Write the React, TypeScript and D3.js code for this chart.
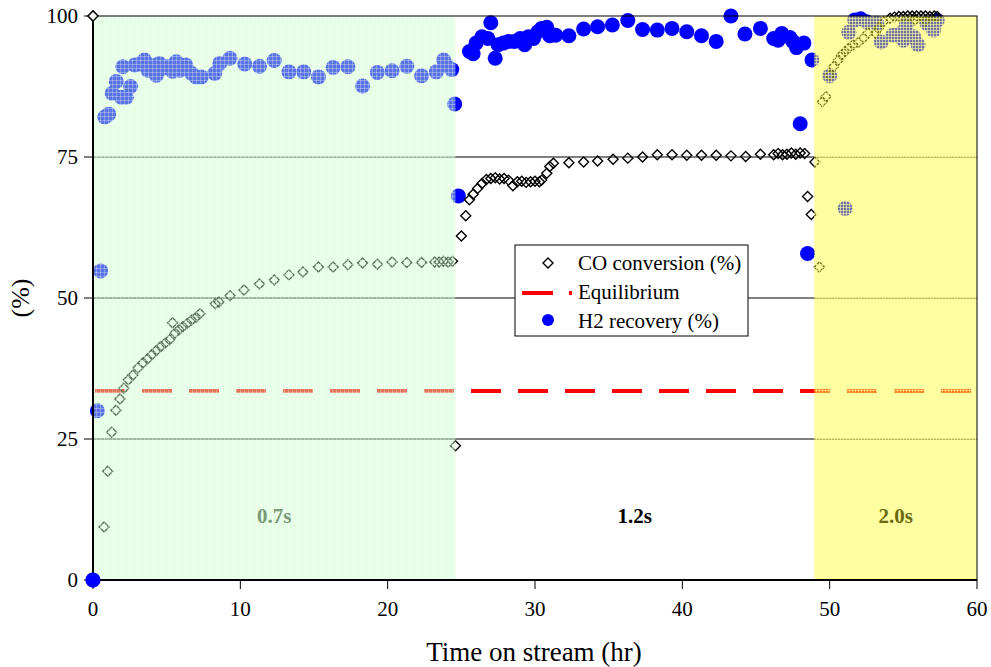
import * as d3 from "d3";
import { useEffect } from "react";

// time on stream (hr) and values
const coTime = [
  0, 0.75, 1.0, 1.27, 1.56, 1.83, 2.1, 2.4, 2.7, 3.05, 3.4, 3.7, 4.0, 4.3, 4.6,
  4.9, 5.2, 5.4, 5.57, 5.85, 6.1, 6.4, 6.7, 7.0, 7.26, 8.3, 8.55, 9.3, 10.25,
  11.3, 12.3, 13.3, 14.25, 15.3, 16.3, 17.3, 18.3, 19.3, 20.3, 21.3, 22.3, 23.2,
  23.5, 23.8, 24.1, 24.4, 24.6, 25.0, 25.3, 25.55, 25.8, 26.1, 26.4, 26.7, 27.0,
  27.3, 27.6, 27.9, 28.2, 28.5, 28.8, 29.1, 29.4, 29.7, 30.0, 30.3, 30.45, 30.8,
  31.0, 31.25, 32.3, 33.3, 34.25, 35.3, 36.3, 37.3, 38.3, 39.3, 40.3, 41.3,
  42.3, 43.3, 44.3, 45.3, 46.2, 46.5, 46.8, 47.1, 47.4, 47.7, 48.0, 48.3, 48.5,
  48.75, 49.0, 49.3, 49.5, 49.75, 50.0, 50.25, 50.6, 50.8, 51.05, 51.3, 51.6,
  51.95, 52.3, 52.6, 53.1, 53.3, 53.65, 54.1, 54.4, 54.7, 55.0, 55.3, 55.6,
  55.8, 55.9, 56.2, 56.5, 56.5, 56.8, 57.1, 57.3,
];
const coValue = [
  100, 9.4, 19.3, 26.2, 30.1, 32.1, 34, 35.5, 36.3, 37.6, 38.5, 39.2, 40.0,
  40.7, 41.4, 42.0, 42.6, 45.6, 43.8, 44.4, 44.9, 45.5, 46.1, 46.6, 47.2, 49.0,
  49.3, 50.4, 51.4, 52.5, 53.2, 54.1, 54.6, 55.5, 55.5, 55.9, 56.2, 56.0, 56.4,
  56.3, 56.3, 56.4, 56.4, 56.5, 56.4, 56.5, 23.8, 61.0, 64.6, 67.4, 68.4, 69.4,
  70.3, 71.0, 71.2, 71.3, 71.1, 71.2, 70.9, 69.9, 70.6, 70.7, 70.5, 70.6, 70.7,
  70.6, 70.9, 72.1, 73.3, 73.9, 74.0, 74.1, 74.3, 74.6, 74.8, 75.0, 75.4, 75.4,
  75.3, 75.3, 75.3, 75.2, 75.1, 75.5, 75.4, 75.6, 75.4, 75.5, 75.7, 75.5, 75.7,
  75.6, 68.0, 64.8, 74.1, 55.5, 84.8, 85.7, 89.5, 91.0, 92.2, 93.1, 93.7, 94.3,
  94.9, 95.3, 96.1, 97.0, 97.0, 97.8, 99.0, 99.6, 99.8, 99.9, 99.9, 100, 100,
  99.3, 100, 100, 100, 99.2, 99.9, 100, 99.9,
];

const h2Time = [
  0, 0.3, 0.52, 0.8, 1.07, 1.3, 1.58, 1.92, 2.03, 2.26, 2.55, 2.83, 3.2, 3.5,
  3.73, 4.0, 4.3, 4.5, 4.8, 5.1, 5.4, 5.65, 5.9, 6.3, 6.7, 7.0, 7.35, 8.26, 8.6,
  9.3, 10.3, 11.3, 12.3, 13.3, 14.3, 15.3, 16.3, 17.3, 18.3, 19.3, 20.3, 21.3,
  22.3, 23.3, 23.8, 24.0, 24.35, 24.55, 24.8, 25.55, 25.8, 26.0, 26.4, 26.8,
  27.0, 27.3, 27.5, 27.85, 28.2, 28.6, 29.0, 29.3, 29.55, 29.9, 30.2, 30.45,
  30.8, 31.0, 31.4, 32.3, 33.3, 34.25, 35.25, 36.3, 37.3, 38.3, 39.3, 40.3,
  41.3, 42.3, 43.3, 44.25, 45.3, 46.2, 46.5, 46.75, 47.3, 47.5, 47.75, 48.0,
  48.25, 48.5, 48.8, 50.0, 51.05, 51.3, 51.7, 52.1, 52.5, 53.2, 53.5, 54.3,
  54.8, 55.0, 55.2, 55.7, 56.0, 56.6, 57.05, 57.3,
];
const h2Value = [
  0, 30.0, 54.8, 82.1, 82.6, 86.3, 88.4, 85.6, 91.0, 85.6, 87.5, 91.3, 91.5,
  92.2, 90.4, 91.2, 89.5, 91.6, 90.8, 91.0, 90.2, 91.9, 90.4, 91.3, 89.8, 89.2,
  89.2, 89.8, 91.6, 92.5, 91.5, 91.1, 92.1, 90.1, 90.1, 89.2, 90.9, 91.0, 87.6,
  90.0, 90.3, 91.1, 89.4, 90.1, 92.2, 91.2, 90.5, 84.4, 68.1, 93.7, 93.3, 95.2,
  96.3, 96.0, 98.8, 92.5, 94.9, 95.2, 95.5, 95.5, 96.0, 94.9, 96.3, 96.0, 97.2,
  97.8, 98.0, 96.5, 96.6, 96.5, 97.7, 98.1, 98.4, 99.2, 97.6, 97.5, 97.8, 97.2,
  96.5, 95.5, 100, 96.8, 97.8, 96.0, 95.7, 96.9, 96.2, 95.5, 94.4, 80.9, 95.2,
  57.9, 92.2, 89.4, 65.9, 97.1, 99.3, 99.5, 99.0, 98.7, 95.4, 96.6, 96.9, 95.7,
  98.4, 96.3, 94.9, 98.7, 97.5, 99.2,
];

const equilibrium = 33.5;
const regionStart = [0, 24.6, 48.95];
const regionEnd = [24.6, 48.95, 60];
const regionLabels = ["0.7s", "1.2s", "2.0s"];
const yTicks = [0, 25, 50, 75, 100];
const xTicks = [0, 10, 20, 30, 40, 50, 60];
const legendLabels = ["CO conversion (%)", "Equilibrium", "H2 recovery (%)"];

export default function App() {
  useEffect(() => {
    document.body.style.margin = "0";
  }, []);

  const width = 991,
    height = 667;
  const left = 93,
    right = 977,
    top = 16,
    bottom = 580;
  const font = "'Liberation Serif', 'Times New Roman', serif";

  const x = d3.scaleLinear().domain([0, 60]).range([left, right]);
  const y = d3.scaleLinear().domain([0, 100]).range([bottom, top]);

  const diamond = (cx: number, cy: number, r: number) =>
    `M${cx},${cy - r}L${cx + r},${cy}L${cx},${cy + r}L${cx - r},${cy}Z`;

  const regionFill = ["url(#greenPat)", "none", "url(#yellowPat)"];
  const labelColor = ["#7a9a7a", "#000", "#6b6b10"];

  return (
    <svg
      width={width}
      height={height}
      style={{ display: "block", fontFamily: font, background: "#fff" }}
    >
      <defs>
        <pattern id="greenPat" width={4} height={4} patternUnits="userSpaceOnUse">
          <rect width={4} height={4} fill="#c4ffc4" fillOpacity={0.45} />
          <path d="M0,0.5H4M0.5,0V4" stroke="#ffffff" strokeWidth={1} strokeOpacity={0.3} />
        </pattern>
        <pattern id="yellowPat" width={3} height={3} patternUnits="userSpaceOnUse">
          <rect width={3} height={3} fill="#ffff30" fillOpacity={0.45} />
          <path d="M0,0.5H3M0.5,0V3" stroke="#ffffa0" strokeWidth={1} strokeOpacity={0.6} />
        </pattern>
      </defs>

      {/* horizontal grid */}
      {yTicks
        .filter((t) => t > 0 && t < 100)
        .map((t) => (
          <line key={t} x1={left} x2={right} y1={y(t)} y2={y(t)} stroke="#000" strokeWidth={1} />
        ))}

      {/* equilibrium */}
      <line
        x1={left + 2}
        x2={right}
        y1={y(equilibrium)}
        y2={y(equilibrium)}
        stroke="#ff0000"
        strokeWidth={4}
        strokeDasharray="30 17"
      />

      {/* H2 recovery */}
      {h2Time.map((t, i) => (
        <circle key={i} cx={x(t)} cy={y(h2Value[i])} r={7.5} fill="#0000ff" />
      ))}

      {/* CO conversion */}
      {coTime.map((t, i) => (
        <path
          key={i}
          d={diamond(x(t), y(coValue[i]), 5)}
          fill="none"
          stroke="#000"
          strokeWidth={1.4}
        />
      ))}

      {/* shaded residence time regions */}
      {regionStart.map((s, i) =>
        regionFill[i] === "none" ? null : (
          <rect
            key={i}
            x={x(s)}
            y={top}
            width={x(regionEnd[i]) - x(s)}
            height={bottom - top}
            fill={regionFill[i]}
          />
        )
      )}
      {regionStart.map((s, i) => (
        <text
          key={i}
          x={(x(s) + x(regionEnd[i])) / 2}
          y={523}
          textAnchor="middle"
          fontSize={21}
          fontWeight="bold"
          fill={labelColor[i]}
        >
          {regionLabels[i]}
        </text>
      ))}

      {/* frame */}
      <rect x={left} y={top} width={right - left} height={bottom - top} fill="none" stroke="#000" strokeWidth={1} />
      <line x1={left} x2={left} y1={top} y2={bottom} stroke="#000" strokeWidth={2} />
      <line x1={left} x2={right} y1={bottom} y2={bottom} stroke="#000" strokeWidth={2} />

      {/* y axis */}
      {yTicks.map((t) => (
        <g key={t}>
          <line x1={left - 9} x2={left} y1={y(t)} y2={y(t)} stroke="#000" strokeWidth={1} />
          <text x={left - 15} y={y(t)} dy="0.35em" textAnchor="end" fontSize={21}>
            {t}
          </text>
        </g>
      ))}
      {/* x axis */}
      {xTicks.map((t) => (
        <g key={t}>
          <line x1={x(t)} x2={x(t)} y1={bottom} y2={bottom + 9} stroke="#000" strokeWidth={1} />
          <text x={x(t)} y={616} textAnchor="middle" fontSize={21}>
            {t}
          </text>
        </g>
      ))}
      {/* re-draw markers that sit on the axis */}
      <circle cx={x(0)} cy={y(0)} r={7.5} fill="#0000ff" />
      <path d={diamond(x(0), y(100), 5)} fill="#fff" stroke="#000" strokeWidth={1.4} />

      <text x={534} y={661} textAnchor="middle" fontSize={27}>
        Time on stream (hr)
      </text>
      <text
        transform={`translate(29 ${(top + bottom) / 2}) rotate(-90)`}
        textAnchor="middle"
        fontSize={26}
      >
        (%)
      </text>

      {/* legend */}
      <g transform="translate(515 245)">
        <rect x={0} y={0} width={233} height={91} fill="#fff" stroke="#000" strokeWidth={1} />
        <path d={diamond(33, 18, 5)} fill="none" stroke="#000" strokeWidth={1.4} />
        <line x1={7} x2={38} y1={48} y2={48} stroke="#ff0000" strokeWidth={4} />
        <rect x={54} y={46} width={3} height={4} fill="#ff0000" />
        <circle cx={33} cy={75} r={6} fill="#0000ff" />
        {legendLabels.map((l, i) => (
          <text key={l} x={63} y={18 + i * 29} dy="0.35em" fontSize={21}>
            {l}
          </text>
        ))}
      </g>
    </svg>
  );
}
